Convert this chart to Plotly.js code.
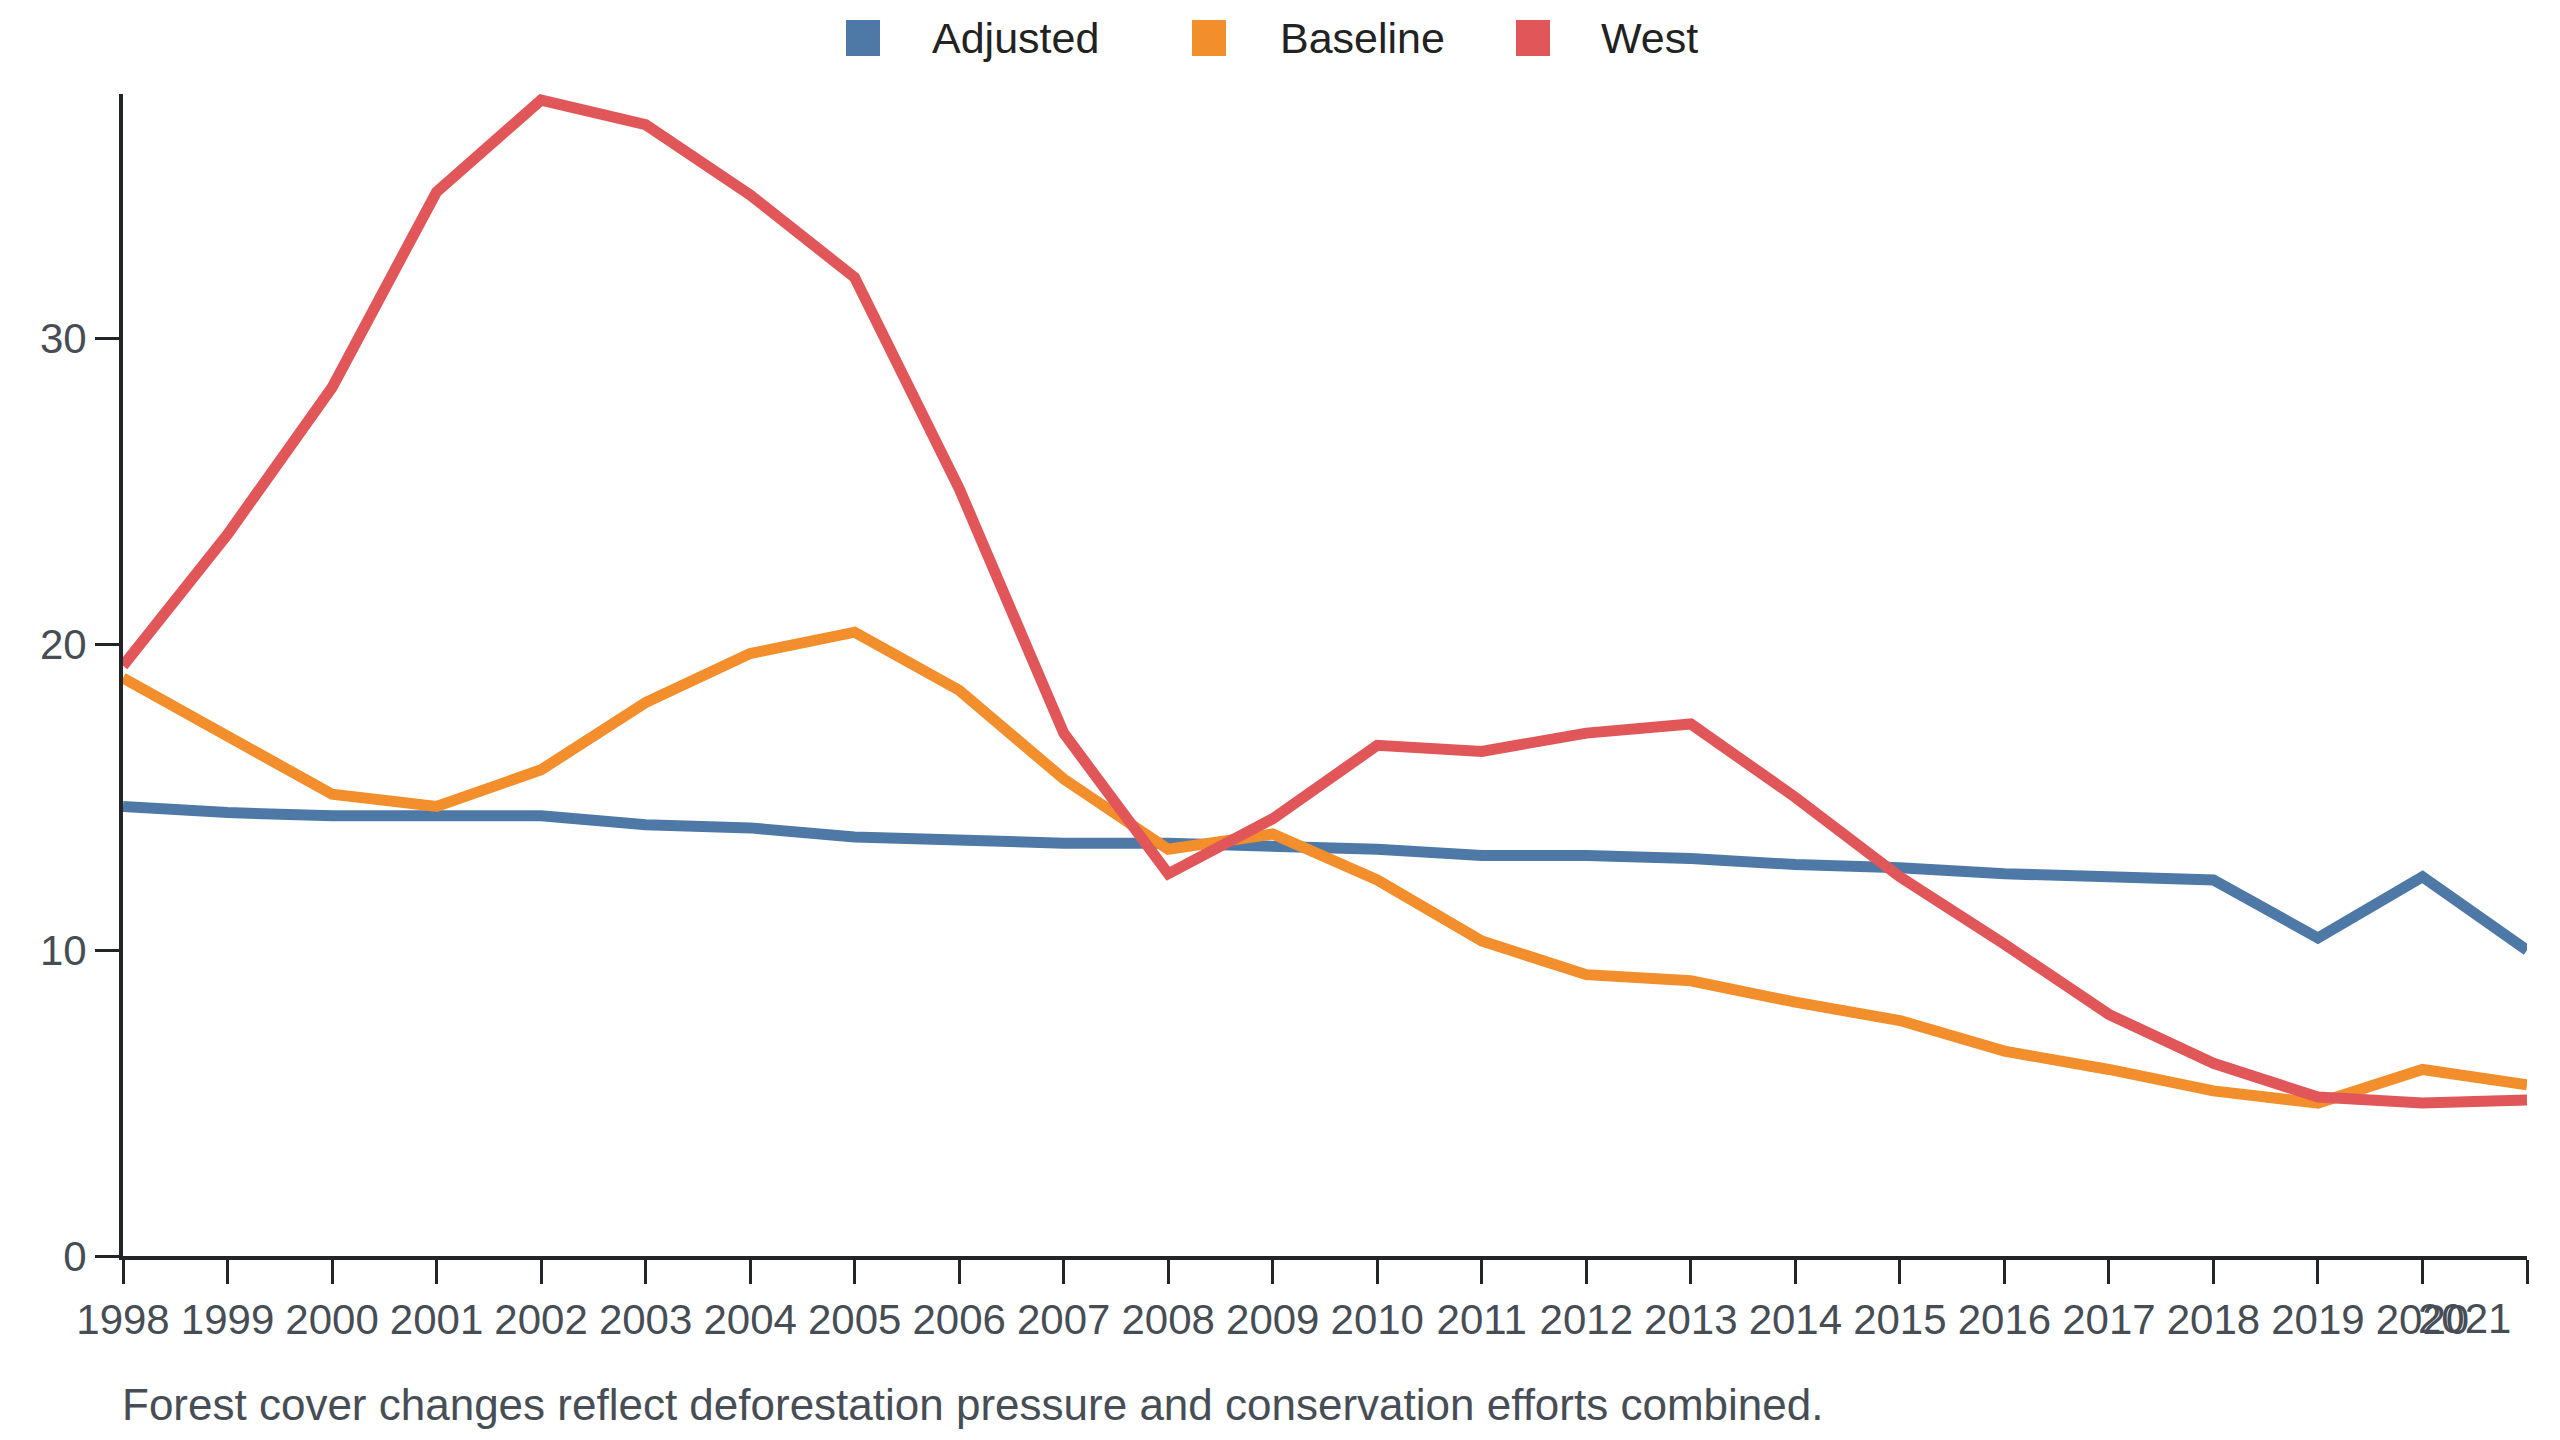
<!DOCTYPE html>
<html>
<head>
<meta charset="utf-8">
<script src="https://cdn.plot.ly/plotly-3.0.1.min.js"></script>
<style>
  html, body { margin: 0; padding: 0; background: #fff; }
  #chart { width: 2560px; height: 1440px; }
</style>
</head>
<body>
<div id="chart"></div>
<script>
var years = [1998, 1999, 2000, 2001, 2002, 2003, 2004, 2005, 2006, 2007, 2008, 2009,
             2010, 2011, 2012, 2013, 2014, 2015, 2016, 2017, 2018, 2019, 2020, 2021];

var adjusted = [14.7, 14.5, 14.4, 14.4, 14.4, 14.1, 14.0, 13.7, 13.6, 13.5, 13.5, 13.4,
                13.3, 13.1, 13.1, 13.0, 12.8, 12.7, 12.5, 12.4, 12.3, 10.4, 12.4, 10.0];

var baseline = [18.9, 17.0, 15.1, 14.7, 15.9, 18.1, 19.7, 20.4, 18.5, 15.6, 13.3, 13.8,
                12.3, 10.3, 9.2, 9.0, 8.3, 7.7, 6.7, 6.1, 5.4, 5.0, 6.1, 5.6];

var west = [19.3, 23.6, 28.4, 34.8, 37.8, 37.0, 34.7, 32.0, 25.1, 17.1, 12.5, 14.3,
            16.7, 16.5, 17.1, 17.4, 15.0, 12.4, 10.2, 7.9, 6.3, 5.2, 5.0, 5.1];

var seriesNames = ['Adjusted', 'Baseline', 'West'];
var colours = ['#4e79a7', '#f28e2b', '#e15759'];
var caption = 'Forest cover changes reflect deforestation pressure and conservation efforts combined.';

var font = 'Liberation Sans, Arial, sans-serif';

// plot box in page pixels
var W = 2560, H = 1440;
var m = {l: 123, r: 33, t: 94, b: 184};
var plotW = W - m.l - m.r;
var plotH = H - m.t - m.b;
function px2x(p) { return (p - m.l) / plotW; }
function px2y(p) { return (H - m.b - p) / plotH; }

var values = [adjusted, baseline, west];
var data = values.map(function(v, i) {
  return {
    x: years,
    y: v,
    name: seriesNames[i],
    type: 'scatter',
    mode: 'lines',
    line: {color: colours[i], width: 11},
    cliponaxis: false,
    showlegend: false,
    hoverinfo: 'x+y+name'
  };
});

// legend drawn by hand so the swatches can be big squares
var legendSquareX = [863, 1209, 1533];
var legendTextX = [930, 1278, 1599];
var legendY = 38;
var shapes = [];
var annotations = [];
seriesNames.forEach(function(name, i) {
  shapes.push({
    type: 'rect', xref: 'paper', yref: 'paper',
    xsizemode: 'pixel', ysizemode: 'pixel',
    xanchor: px2x(legendSquareX[i]), yanchor: px2y(legendY),
    x0: -17, x1: 17, y0: -18, y1: 18,
    fillcolor: colours[i], line: {width: 0}
  });
  annotations.push({
    xref: 'paper', yref: 'paper',
    x: px2x(legendTextX[i]), y: px2y(legendY),
    xanchor: 'left', yanchor: 'middle',
    text: name, showarrow: false,
    font: {family: font, size: 43, color: '#222222'}
  });
});

// last year label sits flush with the axis end, like the original
var tickText = years.map(function(y, i) { return i === years.length - 1 ? '' : String(y); });
annotations.push({
  xref: 'x', yref: 'paper',
  x: years[years.length - 1], y: px2y(1318),
  xanchor: 'right', yanchor: 'middle', xshift: -14,
  text: String(years[years.length - 1]), showarrow: false,
  font: {family: font, size: 42, color: '#474d55'}
});

annotations.push({
  xref: 'paper', yref: 'paper',
  x: 0, y: px2y(1405),
  xanchor: 'left', yanchor: 'middle', xshift: -3,
  text: caption, showarrow: false,
  font: {family: font, size: 44, color: '#474d55'}
});

var layout = {
  width: W,
  height: H,
  margin: m,
  paper_bgcolor: '#ffffff',
  plot_bgcolor: '#ffffff',
  font: {family: font, size: 42, color: '#474d55'},
  showlegend: false,
  xaxis: {
    type: 'linear',
    range: [years[0], years[years.length - 1]],
    tickvals: years,
    ticktext: tickText,
    ticks: 'outside',
    ticklen: 24,
    tickwidth: 3,
    tickcolor: '#222428',
    showline: true,
    linecolor: '#222428',
    linewidth: 4,
    showgrid: false,
    zeroline: false,
    tickfont: {family: font, size: 42, color: '#474d55'}
  },
  yaxis: {
    range: [0, 38.0],
    tickvals: [0, 10, 20, 30],
    ticks: 'outside',
    ticklen: 24,
    tickwidth: 3,
    tickcolor: '#222428',
    showline: true,
    linecolor: '#222428',
    linewidth: 4,
    showgrid: false,
    zeroline: false,
    tickfont: {family: font, size: 42, color: '#474d55'}
  },
  shapes: shapes,
  annotations: annotations
};

Plotly.newPlot('chart', data, layout, {displayModeBar: false, responsive: false});
</script>
</body>
</html>
